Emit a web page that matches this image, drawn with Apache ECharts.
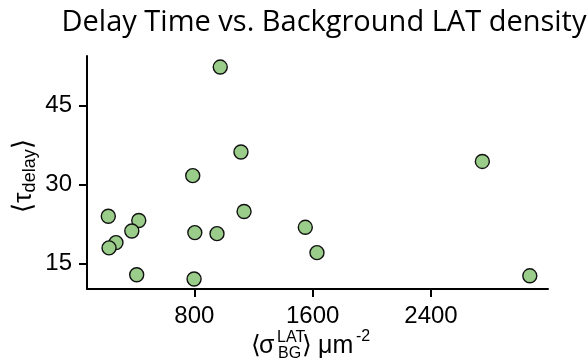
<!DOCTYPE html>
<html>
<head>
<meta charset="utf-8">
<script src="https://cdn.jsdelivr.net/npm/echarts@6/dist/echarts.min.js"></script>
<style>html,body{margin:0;padding:0;background:#fff}#c{width:587px;height:362px}</style>
</head>
<body>
<div id="c"></div>
<script>
// Data
var sigmaBG = [975, 1115, 789, 218, 424, 377, 270, 223, 803, 953, 1136, 1550, 1629, 410, 798, 2747, 3068];
var tauDelay = [52.3, 36.2, 31.7, 24.0, 23.2, 21.2, 19.0, 18.0, 20.9, 20.7, 24.9, 21.9, 17.1, 12.9, 12.1, 34.4, 12.7];
var xTicks = [800, 1600, 2400];
var yTicks = [15, 30, 45];
var titleText = 'Delay Time vs. Background LAT density';

var points = sigmaBG.map(function (x, i) { return [x, tauDelay[i]]; });

var chart = echarts.init(document.getElementById('c'), null, {renderer: 'canvas'});
var tickFont = 'Liberation Sans';
chart.setOption({
  animation: false,
  backgroundColor: '#fff',
  title: {
    text: titleText,
    left: 319,
    top: 3,
    textAlign: 'center',
    textStyle: {fontFamily: 'Open Sans', fontSize: 29, fontWeight: 'normal', color: '#000'}
  },
  grid: {left: 87, right: 39, top: 56, bottom: 73, containLabel: false},
  xAxis: {
    type: 'value', min: 74, max: 3191,
    axisLine: {show: true, lineStyle: {color: '#000', width: 2}},
    axisTick: {show: true, length: 8, lineStyle: {color: '#000', width: 2}, customValues: xTicks},
    axisLabel: {customValues: xTicks, formatter: function (v) { return String(v); },
      fontFamily: tickFont, fontSize: 24, color: '#000', margin: 15},
    splitLine: {show: false}
  },
  yAxis: {
    type: 'value', min: 10.2, max: 54.4,
    axisLine: {show: true, lineStyle: {color: '#000', width: 2}},
    axisTick: {show: true, length: 8, lineStyle: {color: '#000', width: 2}, customValues: yTicks},
    axisLabel: {customValues: yTicks, formatter: function (v) { return String(v); },
      fontFamily: tickFont, fontSize: 24, color: '#000', margin: 15},
    splitLine: {show: false}
  },
  series: [{
    type: 'scatter',
    data: points,
    symbol: 'circle',
    symbolSize: 14,
    itemStyle: {color: '#9ACD89', borderColor: '#111', borderWidth: 1.4, opacity: 1}
  }],
  graphic: [
    {type: 'text', x: 24, y: 176, rotation: Math.PI / 2,
      style: {
        text: '{b|⟨}{m|τ}{s|delay}{b|⟩}',
        align: 'center', verticalAlign: 'middle', fill: '#000',
        rich: {
          b: {fontFamily: 'DejaVu Sans', fontSize: 27, lineHeight: 34, verticalAlign: 'middle', fill: '#000'},
          m: {fontFamily: tickFont, fontSize: 26, lineHeight: 34, verticalAlign: 'middle', fill: '#000'},
          s: {fontFamily: tickFont, fontSize: 18, lineHeight: 18, verticalAlign: 'bottom', fill: '#000', padding: [0, 0, 2, 0]}
        }
      }},
    {type: 'text', x: 251, y: 346, style: {text: '⟨', font: '25px "DejaVu Sans"', fill: '#000', align: 'left', verticalAlign: 'middle'}},
    {type: 'text', x: 259, y: 346, style: {text: 'σ', font: '25px "Liberation Sans"', fill: '#000', align: 'left', verticalAlign: 'middle'}},
    {type: 'text', x: 277, y: 330, style: {text: 'LAT', font: '16px "Liberation Sans"', fill: '#000', align: 'left', verticalAlign: 'top'}},
    {type: 'text', x: 278, y: 346, style: {text: 'BG', font: '16px "Liberation Sans"', fill: '#000', align: 'left', verticalAlign: 'top'}},
    {type: 'text', x: 302, y: 346, style: {text: '⟩', font: '25px "DejaVu Sans"', fill: '#000', align: 'left', verticalAlign: 'middle'}},
    {type: 'text', x: 318, y: 346, style: {text: 'μm', font: '25px "Liberation Sans"', fill: '#000', align: 'left', verticalAlign: 'middle'}},
    {type: 'text', x: 356, y: 329, style: {text: '-2', font: '16px "Liberation Sans"', fill: '#000', align: 'left', verticalAlign: 'top'}}
  ]
});
</script>
</body>
</html>
